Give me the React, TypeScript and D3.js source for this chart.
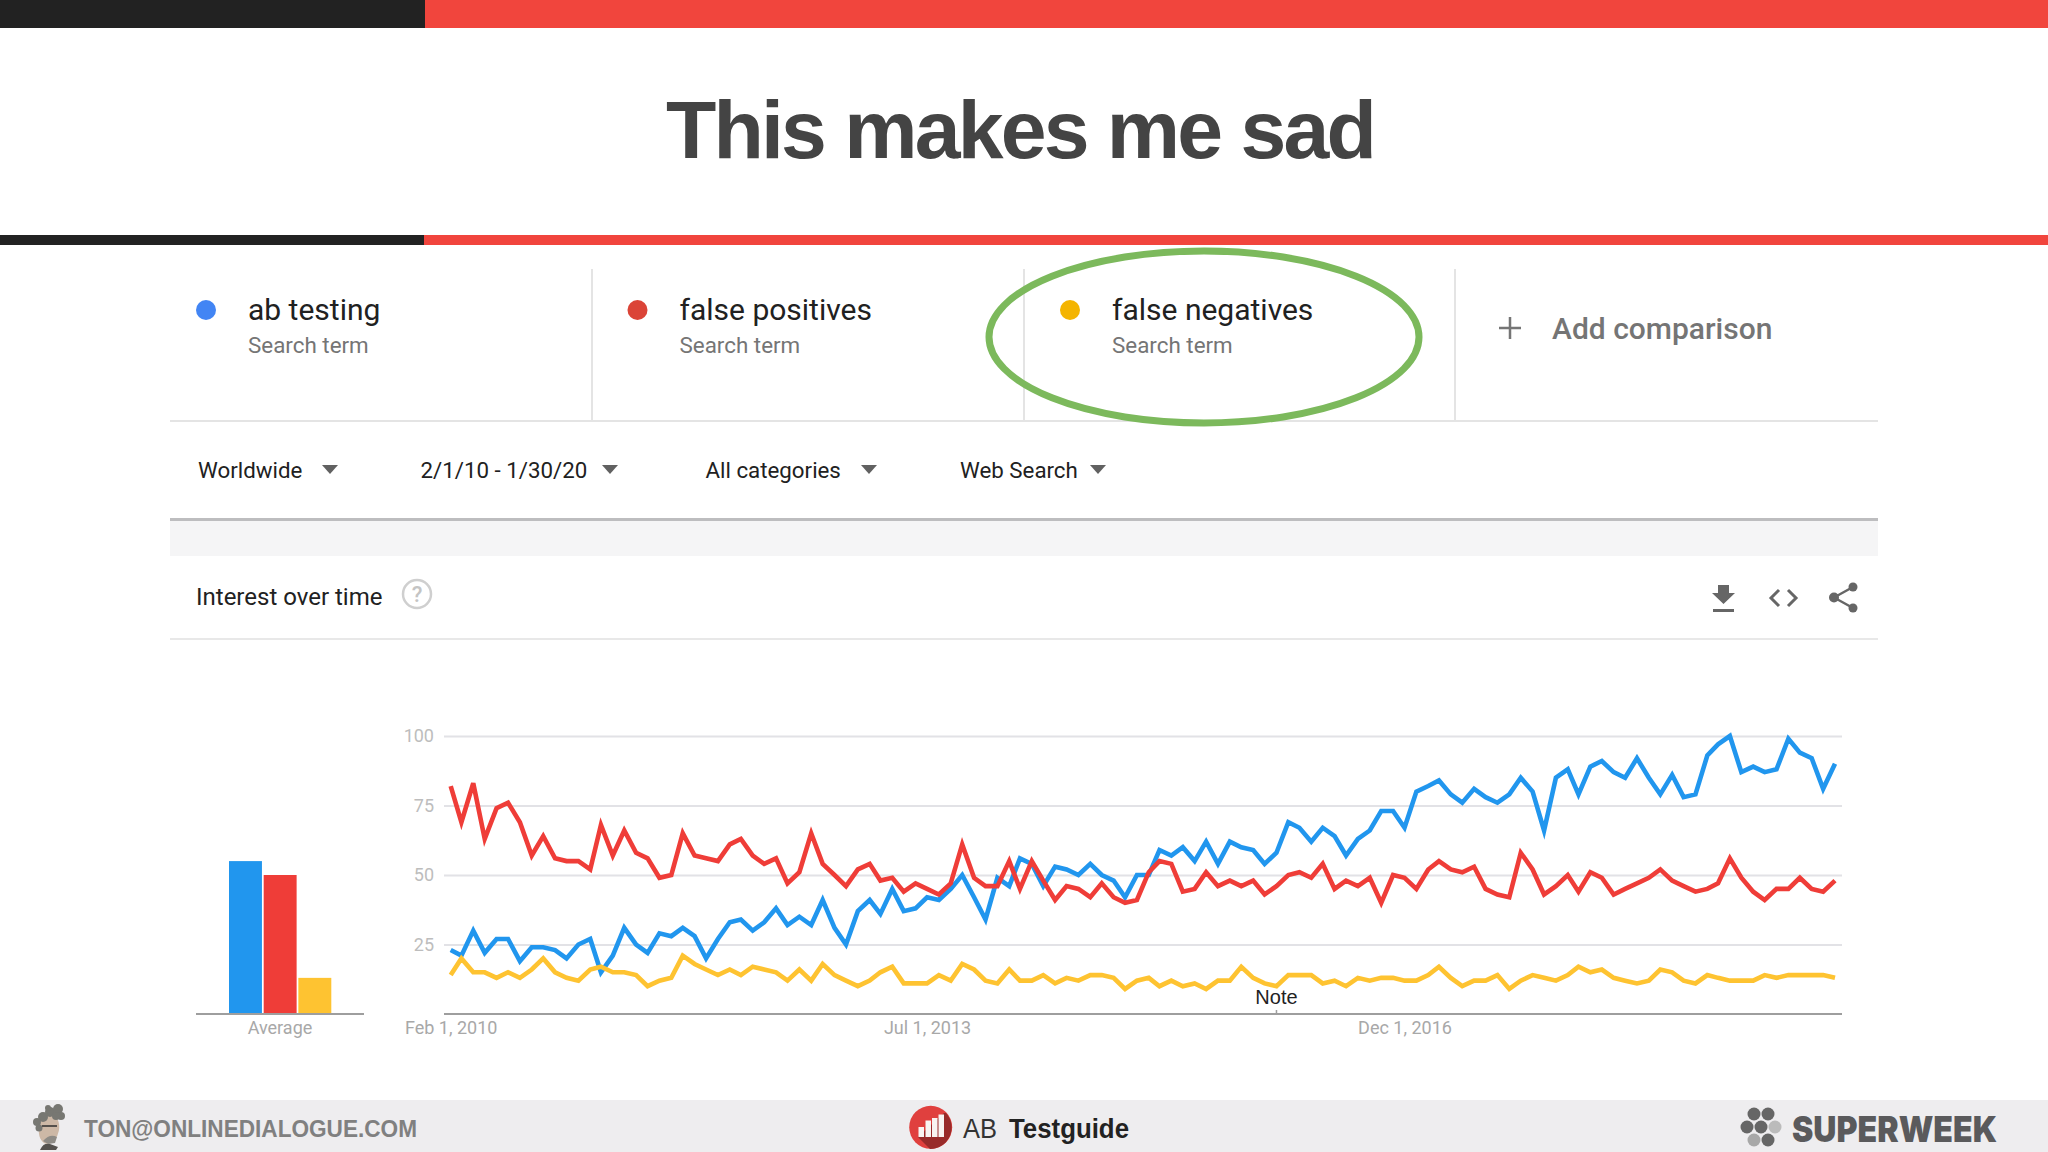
import { useEffect, useRef } from "react";
import * as d3 from "d3";

const terms = ["ab testing", "false positives", "false negatives"];
const termColors = ["#2196ee", "#ef3d38", "#fec331"];
const dotColors = ["#4285f4", "#db4437", "#f4b400"];
const averages = [55, 50, 13];
const filters = ["Worldwide", "2/1/10 - 1/30/20", "All categories", "Web Search"];
const yTicks = [25, 50, 75, 100];

// monthly values, Feb 2010 - Jan 2020
const abTesting = [
  23, 21, 30, 22, 27, 27, 19, 24, 24, 23, 20, 25, 27, 15, 21, 31, 25, 22, 29, 28,
  31, 28, 20, 27, 33, 34, 30, 33, 38, 32, 35, 32, 41, 31, 25, 37, 41, 36, 45, 37,
  38, 42, 41, 45, 50, 42, 34, 49, 46, 56, 54, 46, 53, 52, 50, 54, 50, 48, 42, 50,
  50, 59, 57, 60, 55, 62, 54, 62, 60, 59, 54, 58, 69, 67, 62, 67, 64, 57, 63, 66,
  73, 73, 67, 80, 82, 84, 79, 76, 81, 78, 76, 79, 85, 80, 66, 85, 88, 79, 89, 91,
  87, 85, 92, 85, 79, 86, 78, 79, 93, 97, 100, 87, 89, 87, 88, 99, 94, 92, 81, 90,
];
const falsePositives = [
  82, 69, 83, 63, 74, 76, 69, 57, 64, 56, 55, 55, 52, 68, 57, 66, 58, 56, 49, 50,
  65, 57, 56, 55, 61, 63, 57, 54, 56, 47, 51, 65, 54, 50, 46, 52, 54, 48, 49, 44,
  47, 45, 43, 47, 61, 49, 46, 46, 55, 45, 55, 48, 41, 46, 45, 42, 47, 42, 40, 41,
  51, 55, 54, 44, 45, 51, 46, 48, 46, 48, 43, 46, 50, 51, 49, 54, 45, 48, 46, 49,
  40, 50, 49, 45, 52, 55, 52, 51, 53, 45, 43, 42, 58, 52, 43, 46, 50, 44, 51, 49,
  43, 45, 47, 49, 52, 48, 46, 44, 45, 47, 56, 49, 44, 41, 45, 45, 49, 45, 44, 48,
];
const falseNegatives = [
  14, 20, 15, 15, 13, 15, 13, 16, 20, 15, 13, 12, 16, 17, 15, 15, 14, 10, 12, 13,
  21, 18, 16, 14, 16, 14, 17, 16, 15, 12, 16, 12, 18, 14, 12, 10, 12, 15, 17, 11,
  11, 11, 14, 12, 18, 16, 12, 11, 16, 12, 12, 14, 11, 13, 12, 14, 14, 13, 9, 12,
  13, 10, 12, 10, 11, 9, 12, 12, 17, 13, 11, 10, 14, 14, 14, 11, 12, 10, 13, 12,
  13, 13, 12, 12, 14, 17, 13, 10, 12, 12, 14, 9, 12, 14, 13, 12, 14, 17, 15, 16,
  13, 12, 11, 12, 16, 15, 12, 11, 14, 13, 12, 12, 12, 14, 13, 14, 14, 14, 14, 13,
];

const months = d3.timeMonth.range(new Date(2010, 1, 1), new Date(2020, 1, 1));
const xLabelDates = [new Date(2010, 1, 1), new Date(2013, 6, 1), new Date(2016, 11, 1)];
const noteDate = new Date(2016, 0, 1);

const FONT = "Roboto, sans-serif";
const HELV = "'Liberation Sans', sans-serif";

const App = () => {
  const chartRef = useRef<SVGGElement>(null);

  useEffect(() => {
    const g = d3.select(chartRef.current);
    g.selectAll("*").remove();

    const xScale = d3.scaleTime().domain([months[0], months[months.length - 1]]).range([450.7, 1835]);
    const yScale = d3.scaleLinear().domain([0, 100]).range([1014, 736]);

    // grid lines + y labels
    const yAxis = d3.axisLeft(yScale).tickValues(yTicks).tickSize(0).tickPadding(0).tickFormat((d) => String(d));
    g.append("g")
      .attr("transform", "translate(434,0)")
      .call(yAxis)
      .call((s) => s.select(".domain").remove())
      .call((s) =>
        s
          .selectAll(".tick text")
          .attr("font-family", FONT)
          .attr("font-size", 18)
          .attr("fill", "#bdbdbd")
      )
      .call((s) =>
        s
          .selectAll(".tick line")
          .attr("x1", 10)
          .attr("x2", 1408)
          .attr("stroke", "#e2e2e6")
          .attr("stroke-width", 2)
      );

    // x axis
    const xAxis = d3
      .axisBottom(xScale)
      .tickValues(xLabelDates)
      .tickSize(0)
      .tickPadding(7)
      .tickFormat((d) => d3.timeFormat("%b %-d, %Y")(d as Date));
    g.append("g")
      .attr("transform", "translate(0,1014)")
      .call(xAxis)
      .call((s) => s.select(".domain").remove())
      .call((s) =>
        s
          .selectAll(".tick text")
          .attr("font-family", FONT)
          .attr("font-size", 18)
          .attr("fill", "#a8a8a8")
      );
    g.append("line")
      .attr("x1", 444)
      .attr("x2", 1842)
      .attr("y1", 1014)
      .attr("y2", 1014)
      .attr("stroke", "#9e9e9e")
      .attr("stroke-width", 2);

    // series
    const line = d3
      .line<number>()
      .x((_, i) => xScale(months[i]))
      .y((d) => yScale(d));
    [abTesting, falsePositives, falseNegatives].forEach((values, i) => {
      g.append("path")
        .datum(values)
        .attr("fill", "none")
        .attr("stroke", termColors[i])
        .attr("stroke-width", 4.6)
        .attr("stroke-linejoin", "miter")
        .attr("d", line);
    });

    // note
    g.append("line")
      .attr("x1", xScale(noteDate))
      .attr("x2", xScale(noteDate))
      .attr("y1", 1010)
      .attr("y2", 1014)
      .attr("stroke", "#9e9e9e")
      .attr("stroke-width", 1.5);
    g.append("text")
      .attr("x", xScale(noteDate))
      .attr("y", 1004)
      .attr("text-anchor", "middle")
      .attr("font-family", HELV)
      .attr("font-size", 20)
      .attr("fill", "#222")
      .text("Note");

    // average bars
    const barX = d3.scaleBand<string>().domain(terms).range([229, 331.3]).paddingInner(0.05);
    g.selectAll("rect.avg")
      .data(averages)
      .enter()
      .append("rect")
      .attr("class", "avg")
      .attr("x", (_, i) => barX(terms[i])!)
      .attr("y", (d) => yScale(d))
      .attr("width", barX.bandwidth())
      .attr("height", (d) => yScale(0) - yScale(d))
      .attr("fill", (_, i) => termColors[i]);
    g.append("line")
      .attr("x1", 196)
      .attr("x2", 364)
      .attr("y1", 1014)
      .attr("y2", 1014)
      .attr("stroke", "#9e9e9e")
      .attr("stroke-width", 2);
    g.append("text")
      .attr("x", 280)
      .attr("y", 1034)
      .attr("text-anchor", "middle")
      .attr("font-family", FONT)
      .attr("font-size", 18)
      .attr("fill", "#a8a8a8")
      .text("Average");
  }, []);

  const termX = [206, 637.5, 1070];
  const filterX = [198, 420.5, 705.5, 960];
  const arrowX = [330, 610, 869, 1098];

  return (
    <svg
      width={2048}
      height={1152}
      viewBox="0 0 2048 1152"
      style={{ position: "fixed", left: 0, top: 0, background: "#fff" }}
    >
      {/* top bars + title */}
      <rect x={0} y={0} width={2048} height={28} fill="#f1453d" />
      <rect x={0} y={0} width={425} height={28} fill="#222222" />
      <text
        x={1020}
        y={158}
        textAnchor="middle"
        fontFamily={HELV}
        fontWeight={700}
        fontSize={82.4}
        letterSpacing={-2.8}
        fill="#444444"
      >
        This makes me sad
      </text>
      <rect x={0} y={235} width={2048} height={10} fill="#f1453d" />
      <rect x={0} y={235} width={424} height={10} fill="#222222" />

      {/* search terms */}
      {terms.map((t, i) => (
        <g key={t}>
          <circle cx={termX[i]} cy={310} r={10} fill={dotColors[i]} />
          <text x={termX[i] + 42} y={320} fontFamily={FONT} fontSize={30} fill="#212121">
            {t}
          </text>
          <text x={termX[i] + 42} y={353} fontFamily={FONT} fontSize={22.400} fill="#757575">
            Search term
          </text>
        </g>
      ))}
      {[592, 1024, 1455].map((x) => (
        <line key={x} x1={x} x2={x} y1={269} y2={421} stroke="#e4e4e4" strokeWidth={2} />
      ))}
      <line x1={170} x2={1878} y1={421} y2={421} stroke="#e4e4e4" strokeWidth={2} />
      <path d="M1510 317v22M1499 328h22" stroke="#757575" strokeWidth={2.5} fill="none" />
      <text x={1552} y={339} fontFamily={FONT} fontWeight={500} fontSize={30} fill="#757575">
        Add comparison
      </text>
      <ellipse cx={1204} cy={337} rx={215} ry={86} fill="none" stroke="#7cb95c" strokeWidth={7} />

      {/* filters */}
      {filters.map((f, i) => (
        <g key={f}>
          <text x={filterX[i]} y={477.500} fontFamily={FONT} fontSize={22.3} fill="#212121">
            {f}
          </text>
          <path d={`M${arrowX[i] - 8} 465h16l-8 9z`} fill="#616161" />
        </g>
      ))}
      <rect x={170} y={520} width={1708} height={36} fill="#f5f5f6" />
      <rect x={170} y={518} width={1708} height={3} fill="#bdbdbf" />

      {/* card header */}
      <text x={196} y={605} fontFamily={FONT} fontSize={24} fill="#212121">
        Interest over time
      </text>
      <circle cx={417} cy={594} r={14} fill="none" stroke="#cfcfcf" strokeWidth={2.5} />
      <text x={417} y={602} textAnchor="middle" fontFamily={FONT} fontWeight={500} fontSize={22} fill="#c4c4c4">
        ?
      </text>
      <line x1={170} x2={1878} y1={639} y2={639} stroke="#e8e8e8" strokeWidth={2} />
      <path d="M1718 585h11v8h6l-11.500 11l-11.500 -11h6z" fill="#666" />
      <rect x={1713} y={609} width={21} height={3} fill="#666" />
      <path d="M1779 590l-8 8l8 8M1788 590l8 8l-8 8" fill="none" stroke="#666" strokeWidth={3} />
      <path d="M1834 597.500L1853 587M1834 597.500L1853 608" stroke="#666" strokeWidth={2.5} />
      <circle cx={1834} cy={597.5} r={5} fill="#666" />
      <circle cx={1853} cy={587} r={4.5} fill="#666" />
      <circle cx={1853} cy={608} r={4.5} fill="#666" />

      <g ref={chartRef} />

      {/* footer */}
      <rect x={0} y={1100} width={2048} height={52} fill="#eeedef" />
      <g>
        <path d="M40 1150q4 -8 10 -6l8 3l-2 3z" fill="#55524f" />
        <ellipse cx={49} cy={1129} rx={10} ry={15} fill="#cdb8a6" transform="rotate(10 49 1129)" />
        {[
          [50, 1112, 5],
          [58, 1109, 5],
          [61, 1116, 4],
          [43, 1117, 5],
          [37, 1122, 4],
          [39, 1128, 3.5],
          [56, 1116, 4],
          [48, 1108, 3],
        ].map(([cx, cy, r], i) => (
          <circle key={i} cx={cx} cy={cy} r={r} fill="#777772" />
        ))}
        <path d="M42 1126h15" stroke="#55504c" strokeWidth={2} />
        <path d="M43 1141q7 -8 14 -4l-2 6l-7 1z" fill="#8e8b86" />
      </g>
      <text
        x={84}
        y={1137}
        fontFamily={HELV}
        fontWeight={700}
        fontSize={24.5}
        fill="#808080"
        textLength={333}
        lengthAdjust="spacingAndGlyphs"
      >
        TON@ONLINEDIALOGUE.COM
      </text>
      <circle cx={930.7} cy={1127.3} r={21.5} fill="#e0403e" />
      <path d="M944 1113l2 0a21.500 21.500 0 0 1 -16 36l-12 -12z" fill="#982b2a" />
      {[0, 1, 2, 3].map((i) => (
        <rect
          key={i}
          x={[918.5, 925.5, 932, 938.5][i]}
          y={[1127, 1120.500, 1118, 1114.5][i]}
          width={5.5}
          height={[10, 16.500, 19, 22.500][i]}
          fill="#f8f4f2"
        />
      ))}
      <text
        x={963}
        y={1138}
        fontFamily={HELV}
        fontSize={27}
        fill="#333"
        textLength={34}
        lengthAdjust="spacingAndGlyphs"
      >
        AB
      </text>
      <text
        x={1009}
        y={1138}
        fontFamily={HELV}
        fontWeight={700}
        fontSize={27}
        fill="#222"
        textLength={120}
        lengthAdjust="spacingAndGlyphs"
      >
        Testguide
      </text>
      {[
        [1754, 1114, "#666"],
        [1768, 1114, "#666"],
        [1747, 1127, "#666"],
        [1761, 1127, "#666"],
        [1775, 1127, "#bbb"],
        [1754, 1140, "#a8a8a8"],
        [1768, 1140, "#666"],
      ].map(([cx, cy, fill], i) => (
        <circle key={i} cx={cx as number} cy={cy as number} r={6.5} fill={fill as string} />
      ))}
      <text
        x={1792}
        y={1142}
        fontFamily="Inter, Roboto, sans-serif"
        fontWeight={900}
        fontSize={36}
        fill="#5a5a5c"
        textLength={205}
        lengthAdjust="spacingAndGlyphs"
      >
        SUPERWEEK
      </text>
    </svg>
  );
};

export default App;
